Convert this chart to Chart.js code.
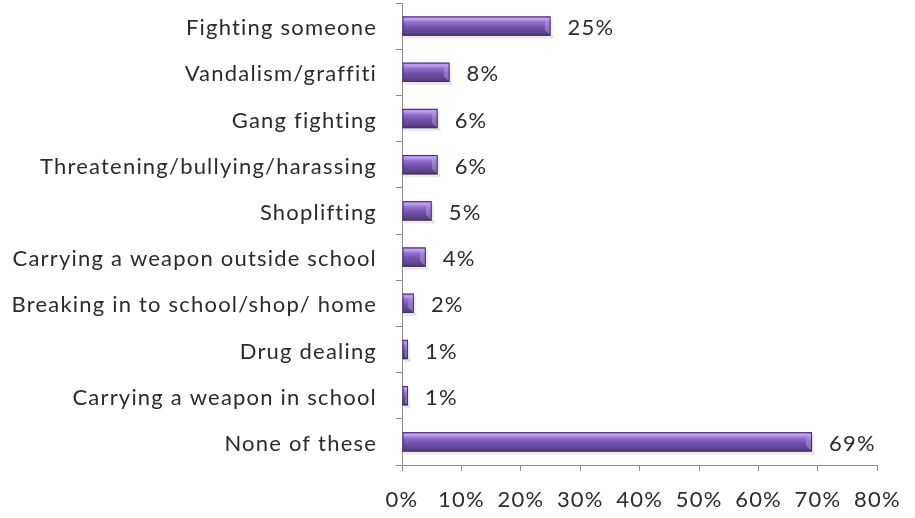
<!DOCTYPE html>
<html>
<head>
<meta charset="utf-8">
<script src="https://cdn.jsdelivr.net/npm/chart.js@4/dist/chart.umd.min.js"></script>
<style>
  html, body { margin: 0; padding: 0; background: #fff; }
  #wrap { width: 915px; height: 518px; position: relative; }
</style>
</head>
<body>
<div id="wrap"><canvas id="behaviourChart"></canvas></div>
<script>
const categories = [
  "Fighting someone",
  "Vandalism/graffiti",
  "Gang fighting",
  "Threatening/bullying/harassing",
  "Shoplifting",
  "Carrying a weapon outside school",
  "Breaking in to school/shop/ home",
  "Drug dealing",
  "Carrying a weapon in school",
  "None of these"
];
const percentages = [25, 8, 6, 6, 5, 4, 2, 1, 1, 69];
const xTicks = [0, 10, 20, 30, 40, 50, 60, 70, 80];

const FONT = "Lato, 'Open Sans', sans-serif";
const TEXT = "#2b2b2b";
const AXIS = "#8c8c8c";

// slightly wider text spacing for all canvas text
const spacing = {
  id: "spacing",
  beforeDraw(chart) { chart.ctx.letterSpacing = "1.2px"; }
};

// bevelled purple bars, painted over each bar element
const bevelBars = {
  id: "bevelBars",
  afterDatasetsDraw(chart) {
    const ctx = chart.ctx;
    chart.getDatasetMeta(0).data.forEach((bar) => {
      const top = bar.y - bar.height / 2;
      const h = bar.height;
      const left = bar.base;
      const w = bar.x - bar.base;
      if (w <= 0) return;
      ctx.save();
      // soft shadow under the bar
      ctx.fillStyle = "rgba(0,0,0,0.08)";
      ctx.fillRect(left + 1, top + h, w + 2, 3);
      ctx.fillRect(left + w, top + 2, 2, h);
      const g = ctx.createLinearGradient(0, top, 0, top + h);
      g.addColorStop(0, "#8a6ec0");
      g.addColorStop(0.12, "#c4a8f2");
      g.addColorStop(0.3, "#9070cc");
      g.addColorStop(0.55, "#7252aa");
      g.addColorStop(0.85, "#5e428c");
      g.addColorStop(1, "#48336b");
      ctx.fillStyle = g;
      ctx.fillRect(left, top, w, h);
      // bevelled end cap
      const cap = Math.min(h * 0.3, w / 2);
      ctx.beginPath();
      ctx.moveTo(left + w, top);
      ctx.lineTo(left + w - cap, top + cap);
      ctx.lineTo(left + w - cap, top + h - cap);
      ctx.lineTo(left + w, top + h);
      ctx.closePath();
      ctx.fillStyle = "rgba(190,165,235,0.45)";
      ctx.fill();
      ctx.strokeStyle = "#45316a";
      ctx.lineWidth = 1;
      ctx.strokeRect(left + 0.5, top + 0.5, w - 1, h - 1);
      ctx.restore();
    });
  }
};

// percentage label to the right of each bar
const valueLabels = {
  id: "valueLabels",
  afterDatasetsDraw(chart) {
    const ctx = chart.ctx;
    const values = chart.data.datasets[0].data;
    ctx.save();
    ctx.font = "22px " + FONT;
    ctx.fillStyle = TEXT;
    ctx.textAlign = "left";
    ctx.textBaseline = "middle";
    chart.getDatasetMeta(0).data.forEach((bar, i) => {
      ctx.fillText(values[i] + "%", bar.x + 17, bar.y + 2);
    });
    ctx.restore();
  }
};

new Chart(document.getElementById("behaviourChart"), {
  type: "bar",
  data: {
    labels: categories,
    datasets: [{
      data: percentages,
      backgroundColor: "rgba(0,0,0,0)",
      borderWidth: 0,
      barPercentage: 0.84,
      categoryPercentage: 0.5
    }]
  },
  plugins: [spacing, bevelBars, valueLabels],
  options: {
    indexAxis: "y",
    responsive: true,
    maintainAspectRatio: false,
    animation: false,
    layout: { padding: { top: 3, right: 37, left: 0, bottom: 0 } },
    plugins: {
      legend: { display: false },
      tooltip: { enabled: false }
    },
    scales: {
      x: {
        min: 0,
        max: 80,
        afterBuildTicks(scale) {
          scale.ticks = xTicks.map((v) => ({ value: v }));
        },
        afterFit(scale) { scale.height = 53; },
        ticks: {
          color: TEXT,
          font: { family: FONT, size: 22 },
          padding: 16,
          callback: (v) => v + "%"
        },
        grid: { drawOnChartArea: false, drawTicks: true, tickLength: 6, color: AXIS },
        border: { color: AXIS }
      },
      y: {
        afterFit(scale) {
          scale.width = 402;
          scale.paddingTop = 0;
          scale.paddingBottom = 0;
        },
        ticks: {
          color: TEXT,
          font: { family: FONT, size: 22 },
          padding: 19,
          labelOffset: 2
        },
        grid: { drawOnChartArea: false, drawTicks: true, tickLength: 6, color: AXIS, offset: true },
        border: { color: AXIS }
      }
    }
  }
});
</script>
</body>
</html>
